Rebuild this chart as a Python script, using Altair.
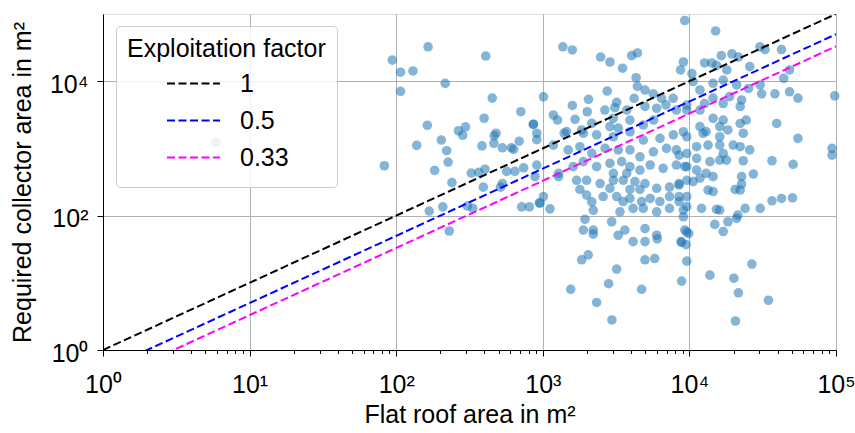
import altair as alt
import pandas as pd

# Flat roof area (m²) and required collector area (m²)
roof_area = [
    165, 94, 107, 130, 408, 216, 107, 452, 708, 398, 163, 266, 297, 284, 203, 138, 221, 226, 83, 183,
    385, 466, 480, 464, 530, 610, 633, 690, 865, 910, 910, 403, 325, 365, 567, 645, 740, 885, 240, 393,
    530, 168, 208, 230, 306, 333, 515, 718, 810, 945, 5.9,
    9300, 1370, 1590, 2480, 2870, 3500, 4040, 4420, 9100, 8700, 4330, 1010, 2750, 4420, 4980, 5670,
    2050, 1590, 3190, 3100, 4200, 6450, 7750, 2010, 2650, 3740, 1180, 1260, 1660, 860, 2160, 3030,
    3930, 4980, 5980, 6920, 8150, 9600, 1400, 1840, 2870, 3270, 4850, 5700,
    1450, 1890, 2330, 3030, 3930, 4850, 6300, 7770, 9600, 1180, 1490, 1790, 2160, 2660, 3270, 3930,
    4600, 5680, 6980, 8150, 9600, 910, 1280, 1610, 1890, 2330, 2870, 3450, 3930, 4600, 5400, 6620,
    8150, 9600, 3030, 3740, 1280, 1700, 1990, 2460, 3030, 3540, 4250, 4980, 5980, 7320, 8500, 9600,
    1790, 2870, 3930, 4600, 1010, 960, 1120, 1990, 2160, 2210, 2580, 3190, 3530, 3930, 4720, 5400,
    6290, 7320, 8500, 9600, 3360, 4130, 4850, 5980, 9100, 7320, 1940, 1890, 2210, 2950, 3630, 4980,
    3270, 5980, 9600,
    2210, 4130, 4980, 6040, 8770, 9500, 2040, 1840, 4980, 5800, 9600, 3190, 2810, 1550, 4720, 8850,
    2330, 2960,
    15100, 30300, 32800, 42500, 16500, 19500, 21600, 12700, 14200, 15300, 18000, 25800, 48200, 44000,
    10400, 10600, 11800, 14500, 17000, 21000, 25300, 30400, 31100, 38300, 48200, 55000, 98000, 14500,
    18800, 22700, 17000, 22200, 11800, 12700, 9600, 14500, 17000, 22200, 24400, 39400, 11800, 13000,
    16100, 18300, 55000,
    9100, 12400, 16100, 23300, 94000, 94000, 11200, 13400, 16100, 19900, 22200, 25800, 36600, 51000,
    8500, 11200, 13800, 16100, 17900, 23300, 17000, 9300, 11200, 13000, 14500, 11800, 10600, 8500,
    27300, 22700, 22700, 20500, 22200, 13400, 14500, 8500, 9600, 12100, 15300, 16100, 21400, 24000,
    30400, 36600, 42500, 50500, 14900, 17000, 18300, 21000, 9300, 9900, 9100,
    8850, 13800, 20100, 26700, 21600, 34600, 20600,
]
collector_area = [
    32500, 20600, 13600, 14200, 23700, 9300, 7070, 5600, 3520, 2810, 2210, 1830, 2090, 1570, 1330, 1110, 925, 627, 552, 470,
    1090, 1540, 1680, 1190, 1020, 1020, 970, 1280, 2290, 1680, 1350, 490, 430, 440, 455, 455, 515, 380, 310, 265,
    300, 117, 135, 59, 139, 128, 265, 135, 135, 155, 1220,
    80000, 32500, 29200, 22900, 19300, 15600, 24000, 26300, 19300, 14700, 11250, 5850, 7130, 8360, 7380, 6500,
    5380, 4360, 4850, 4030, 5570, 5570, 5570, 3510, 3720, 3720, 3140, 2640, 2710, 2280, 2360, 2810,
    2640, 4210, 3960, 4450, 3720, 3720, 1680, 1880, 2110, 2000, 2230, 2640,
    1780, 1680, 1590, 1490, 1770, 1330, 1410, 1590, 1490, 1120, 950, 1060, 845, 1000, 950, 950,
    750, 890, 1000, 950, 840, 565, 425, 535, 635, 535, 600, 635, 535, 475, 565, 505,
    565, 535, 425, 425, 380, 335, 335, 300, 335, 335, 320, 300, 255, 265, 300, 335,
    245, 255, 245, 245, 192, 153, 126, 202, 160, 120, 192, 192, 162, 180, 162, 180,
    162, 192, 162, 192, 114, 128, 128, 114, 121, 128, 88, 61, 61, 81, 61, 64,
    51, 51, 57,
    53, 41, 41, 45, 41, 37, 26, 22, 22, 23, 21, 16, 9.7, 8.0, 8.0, 10.6,
    5.1, 2.8,
    56000, 32500, 29600, 29600, 24000, 25500, 22900, 18700, 18700, 17200, 14700, 16500, 14700, 11000,
    13000, 9900, 7400, 9300, 10400, 8800, 7800, 8800, 6500, 6500, 6950, 5600, 6050, 5600,
    5900, 5250, 4660, 4200, 3720, 4660, 4420, 2800, 2640, 2350, 2640, 2350, 2110, 1780,
    2110, 1880, 1410,
    1770, 1680, 1490, 1680, 1000, 795, 1060, 1120, 1120, 1120, 1060, 950, 655, 580,
    795, 710, 635, 670, 670, 655, 840, 535, 475, 425, 380, 360, 320, 285,
    415, 380, 295, 245, 240, 240, 228, 192, 136, 128, 124, 121, 102, 128,
    128, 166, 180, 184, 74, 58, 81, 91, 61, 54, 96,
    40, 13, 11.7, 19, 7.1, 5.5, 2.7,
]

# Reference lines: required area = exploitation factor x roof area
factor_labels = ["1", "0.5", "0.33"]
factor_values = [1.0, 0.5, 0.33]
factor_colors = ["#000000", "#0000ff", "#ff00ff"]
line_roof_ends = [1, 100000]

major_ticks = [1, 10, 100, 1000, 10000, 100000]
minor_ticks = [m * 10 ** k for k in range(5) for m in range(2, 10)]
x_ticks = sorted(major_ticks + minor_ticks)
y_ticks = [1, 100, 10000]

points = pd.DataFrame({"roof": roof_area, "collector": collector_area})
lines = pd.DataFrame(
    [
        {"factor": lab, "roof": r, "collector": val * r}
        for lab, val in zip(factor_labels, factor_values)
        for r in line_roof_ends
    ]
)

FONT = "Liberation Sans"
FS = 25

sup_expr = (
    "datum.value == 1 ? '10⁰' : datum.value == 10 ? '10¹' : datum.value == 100 ? '10²' : "
    "datum.value == 1000 ? '10³' : datum.value == 10000 ? '10⁴' : datum.value == 100000 ? '10⁵' : ''"
)
is_major = "indexof([1, 10, 100, 1000, 10000, 100000], datum.value) >= 0"

xscale = alt.Scale(type="log", domain=[1, 100000], nice=False)
yscale = alt.Scale(type="log", domain=[1, 100000], nice=False)

x_axis = alt.Axis(
    orient="bottom",
    values=x_ticks,
    labelExpr=sup_expr,
    grid=True,
    gridColor="#b0b0b0",
    gridWidth=1,
    gridOpacity={"condition": {"test": is_major, "value": 1}, "value": 0},
    tickSize={"condition": {"test": is_major, "value": 6}, "value": 3.5},
    tickColor="black",
    domainColor="black",
    labelFont=FONT,
    labelFontSize=FS,
    labelColor="black",
    labelBaseline="alphabetic",
    labelPadding=36,
    labelFlush=False,
    labelOverlap=False,
    title="Flat roof area in m²",
    titleFont=FONT,
    titleFontSize=FS,
    titleFontWeight="normal",
    titleColor="black",
    titleBaseline="alphabetic",
    titleX=366.5,
    titleY=72,
)

y_axis = alt.Axis(
    values=y_ticks,
    labelExpr=sup_expr,
    grid=True,
    gridColor="#b0b0b0",
    gridWidth=1,
    tickSize=6,
    tickColor="black",
    domainColor="black",
    labelFont=FONT,
    labelFontSize=FS,
    labelColor="black",
    labelBaseline="alphabetic",
    labelOffset=11,
    labelPadding=9,
    labelFlush=False,
    labelOverlap=False,
    title="Required collector area in m²",
    titleFont=FONT,
    titleFontSize=FS,
    titleFontWeight="normal",
    titleColor="black",
    titleBaseline="alphabetic",
    titleAngle=270,
    titleX=-73,
    titleY=168,
)

scatter = alt.Chart(points).mark_circle(size=92, color="#1f77b4", opacity=0.55).encode(
    x=alt.X("roof:Q", scale=xscale, axis=x_axis),
    y=alt.Y("collector:Q", scale=yscale, axis=y_axis),
)

line_layer = alt.Chart(lines).mark_line(strokeDash=[8, 3.5], strokeWidth=2, clip=True).encode(
    x=alt.X("roof:Q", scale=xscale, axis=x_axis),
    y=alt.Y("collector:Q", scale=yscale, axis=y_axis),
    color=alt.Color(
        "factor:N",
        scale=alt.Scale(domain=factor_labels, range=factor_colors),
        legend=alt.Legend(
            title="Exploitation factor",
            orient="none",
            legendX=13,
            legendY=12,
            padding=11,
            fillColor="rgba(255,255,255,0.85)",
            strokeColor="#cccccc",
            cornerRadius=4,
            titleFont=FONT,
            titleFontSize=FS,
            titleFontWeight="normal",
            titleColor="black",
            titleLimit=400,
            titlePadding=3,
            labelFont=FONT,
            labelFontSize=FS,
            labelColor="black",
            labelLimit=300,
            symbolType="stroke",
            symbolSize=2809,
            symbolStrokeWidth=2,
            symbolDash=[8, 3.5],
            symbolOffset=39,
            labelOffset=19,
            clipHeight=37,
            rowPadding=0,
        ),
    ),
    detail="factor:N",
)

chart = (
    alt.layer(scatter, line_layer)
    .properties(
        width=733,
        height=336,
        autosize=alt.AutoSizeParams(type="none"),
        padding={"left": 103, "top": 14, "right": 19, "bottom": 83},
    )
    .configure_view(stroke="black", strokeWidth=1)
    .configure(background="white")
)

chart.save("out.html", embed_options={"renderer": "svg", "actions": False})
